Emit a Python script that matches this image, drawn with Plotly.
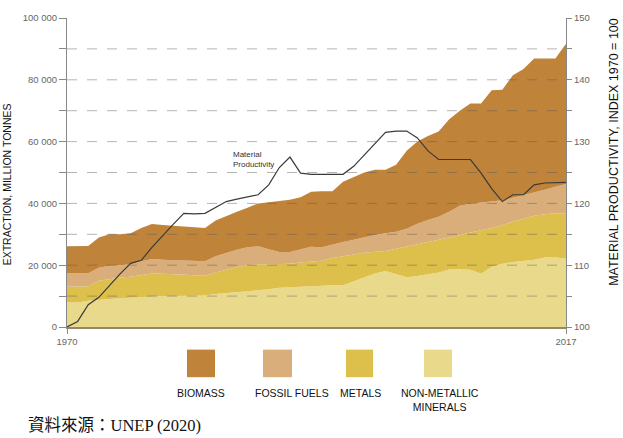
import plotly.graph_objects as go

years = list(range(1970, 2018))

non_metallic = [7900, 7900, 8500, 8900, 9100, 9300, 9500, 9700, 9900, 10000,
                10000, 10100, 10100, 10200, 10700, 11000, 11400, 11700, 11800, 12200,
                12700, 12900, 13000, 13200, 13400, 13500, 13500, 14800, 16200, 17300,
                18100, 17000, 16100, 16500, 17000, 17600, 18600, 18700, 18500, 17200,
                19500, 20500, 21000, 21400, 21800, 22500, 22600, 22100]
metals = [5100, 5100, 4700, 6100, 6500, 6700, 6800, 7200, 7400, 7200,
          7100, 6900, 6700, 6400, 6900, 7500, 7900, 8300, 8500, 8100,
          7600, 7600, 7900, 8000, 8000, 8800, 9500, 8700, 7800, 7000,
          6500, 8300, 9900, 10400, 10600, 10700, 10200, 11000, 12100, 14100,
          12500, 12500, 13000, 13600, 14200, 14000, 14200, 14700]
fossil_fuels = [4300, 4300, 4200, 4200, 4200, 4000, 4000, 4400, 4700, 4600,
                4600, 4600, 4700, 4700, 5300, 5500, 5700, 5800, 5800, 4900,
                4000, 3800, 4300, 4800, 4400, 4400, 4500, 4700, 5100, 5500,
                5700, 5500, 5800, 6500, 7000, 7400, 8500, 9500, 9300, 9000,
                8700, 8000, 7800, 7600, 7400, 7900, 8600, 9500]
biomass = [8800, 8800, 8800, 9800, 10200, 10000, 10000, 10700, 11300, 11200,
           11000, 10900, 10800, 10700, 11600, 12000, 12300, 12800, 13900, 15200,
           16500, 16900, 16800, 17800, 18100, 17200, 19500, 20200, 20900, 21100,
           20600, 21700, 25200, 26600, 27200, 27600, 29900, 30800, 32400, 32000,
           35900, 35800, 39700, 40900, 43500, 42500, 41500, 45400]
productivity = [100.0, 100.9, 103.6, 104.8, 106.7, 108.6, 110.3, 110.8, 112.9, 114.8,
                116.6, 118.4, 118.3, 118.4, 119.3, 120.3, 120.7, 121.0, 121.4, 123.0,
                125.8, 127.5, 124.9, 124.7, 124.7, 124.7, 124.7, 126.0, 127.8, 129.7,
                131.5, 131.7, 131.7, 130.6, 128.5, 127.1, 127.1, 127.1, 127.1, 124.9,
                122.4, 120.3, 121.4, 121.4, 123.0, 123.3, 123.3, 123.4]

left_tickvals = list(range(0, 100001, 10000))
left_ticktext = ["0", "", "20 000", "", "40 000", "", "60 000", "", "80 000", "", "100 000"]
right_tickvals = list(range(100, 151, 5))
right_ticktext = ["100", "", "110", "", "120", "", "130", "", "140", "", "150"]
x_tickvals = [1970, 2017]

legend_labels = ["BIOMASS", "FOSSIL FUELS", "METALS", "NON-METALLIC<br>MINERALS"]

C_BIO = "#C0833A"
C_FOS = "#D9AE7A"
C_MET = "#DDBF4C"
C_NMM = "#E9DA8B"

PL, PR, PT, PB = 67, 566, 13, 327


def px(x):
    return (x - PL) / (PR - PL)


def py(y):
    return (PB - y) / (PB - PT)


fig = go.Figure()
for name, vals, col in [("NON-METALLIC MINERALS", non_metallic, C_NMM),
                        ("METALS", metals, C_MET),
                        ("FOSSIL FUELS", fossil_fuels, C_FOS),
                        ("BIOMASS", biomass, C_BIO)]:
    fig.add_trace(go.Scatter(x=years, y=vals, name=name, stackgroup="one",
                             mode="lines", line=dict(width=0, color=col),
                             fillcolor=col, hoverinfo="skip"))

fig.add_trace(go.Scatter(x=years, y=productivity, yaxis="y2", mode="lines",
                         line=dict(color="#3a3a3a", width=1.2),
                         name="Material Productivity"))

tickfont = dict(family="Liberation Sans, Arial, sans-serif", size=9.5, color="#666")

fig.update_layout(
    width=623, height=438,
    margin=dict(l=PL, r=623 - PR, t=PT, b=438 - PB),
    paper_bgcolor="white", plot_bgcolor="white",
    showlegend=False,
    xaxis=dict(range=[1970, 2017], tickvals=x_tickvals, ticks="outside", ticklen=5,
               tickcolor="#888", showline=True, linecolor="#8f8a6e", linewidth=2,
               showgrid=False, zeroline=False, tickfont=tickfont),
    yaxis=dict(range=[0, 100000], tickvals=left_tickvals, ticktext=left_ticktext,
               ticks="outside", ticklen=7, tickcolor="#888", showline=True,
               linecolor="#888", linewidth=1, showgrid=False, zeroline=False,
               tickfont=tickfont),
    yaxis2=dict(range=[100, 150], tickvals=right_tickvals, ticktext=right_ticktext,
                overlaying="y", side="right", ticks="outside", ticklen=5,
                tickcolor="#888", showline=True, linecolor="#888", linewidth=1,
                showgrid=False, zeroline=False, tickfont=tickfont),
)

shapes = []
for v in range(10000, 100000, 10000):
    shapes.append(dict(type="line", xref="paper", yref="y", x0=0, x1=1, y0=v, y1=v,
                       line=dict(color="rgba(90,90,90,0.45)", width=1, dash="10px,10px"),
                       layer="above"))

sq = [(187, 215), (263, 292), (346, 373), (424, 452)]
cols = [C_BIO, C_FOS, C_MET, C_NMM]
for (x0, x1), c in zip(sq, cols):
    shapes.append(dict(type="rect", xref="paper", yref="paper",
                       x0=px(x0), x1=px(x1), y0=py(378), y1=py(350),
                       fillcolor=c, line=dict(width=0)))
fig.update_layout(shapes=shapes)

lab_font = dict(family="Liberation Sans, Arial, sans-serif", size=10.5, color="#111")
label_x = [201, 292, 360, 440]
ann = []
for lx, t in zip(label_x, legend_labels):
    ann.append(dict(text=t, xref="paper", yref="paper", x=px(lx), y=py(386),
                    xanchor="center", yanchor="top", showarrow=False, font=lab_font,
                    align="center"))

ann.append(dict(text="Material<br>Productivity", xref="paper", yref="paper",
                x=px(231), y=py(157), xanchor="left", yanchor="middle",
                showarrow=False, align="left",
                font=dict(family="Liberation Sans, Arial, sans-serif", size=8, color="#333")))

ann.append(dict(text="EXTRACTION, MILLION TONNES", xref="paper", yref="paper",
                x=px(7), y=py(182), xanchor="center", yanchor="middle",
                textangle=-90, showarrow=False,
                font=dict(family="Liberation Sans, Arial, sans-serif", size=10.5, color="#111")))
ann.append(dict(text="MATERIAL PRODUCTIVITY, INDEX 1970 = 100", xref="paper", yref="paper",
                x=px(614), y=py(149), xanchor="center", yanchor="middle",
                textangle=-90, showarrow=False,
                font=dict(family="Liberation Sans, Arial, sans-serif", size=12.5, color="#111")))

ann.append(dict(text="資料來源：UNEP (2020)", xref="paper", yref="paper",
                x=px(26), y=py(427), xanchor="left", yanchor="middle", showarrow=False,
                font=dict(family="Liberation Serif, Noto Sans CJK TC, serif", size=16.5,
                          color="#111")))

fig.update_layout(annotations=ann)

fig.write_html("out.html")
